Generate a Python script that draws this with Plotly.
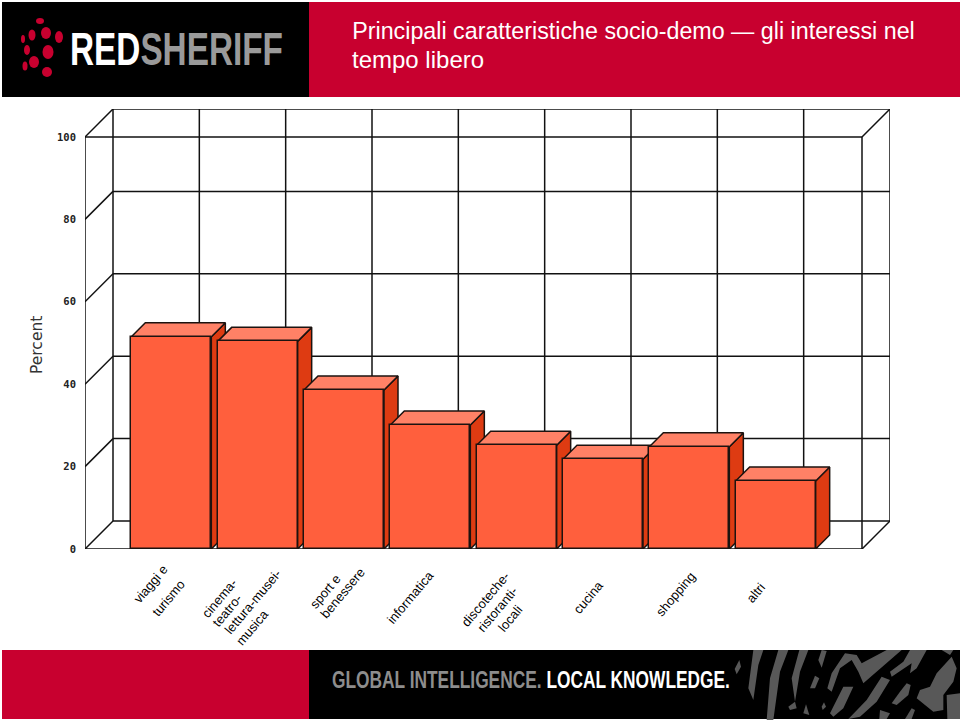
import plotly.graph_objects as go

W, H = 960, 720

# ---- data ----
categories = ["viaggi e turismo", "cinema-teatro-lettura-musei-musica", "sport e benessere",
              "informatica", "discoteche-ristoranti-locali", "cucina", "shopping", "altri"]
values = [51.5, 50.4, 38.6, 30.1, 25.2, 21.8, 24.8, 16.5]
y_ticks = [0, 20, 40, 60, 80, 100]
title_lines = ["Principali caratteristiche socio-demo — gli interessi nel", "tempo libero"]

# ---- geometry ----
X0, X1, Y0, Y1 = 85, 862, 549, 137      # front frame in pixels
DEPTH = 28                              # wall depth in pixels
BAR_DEPTH = 14
PX_X = (X1 - X0) / 9
PX_Y = (Y0 - Y1) / 100
xr = [0, (X1 + DEPTH - X0) / PX_X]
yr = [0, (Y0 - Y1 + DEPTH) / PX_Y]
dom_x = [X0 / W, (X1 + DEPTH) / W]
dom_y = [(H - Y0) / H, (H - Y1 + DEPTH) / H]
dx, dy = DEPTH / PX_X, DEPTH / PX_Y
bdx, bdy = BAR_DEPTH / PX_X, BAR_DEPTH / PX_Y
BAR_W = 80 / PX_X

FRONT, TOP, SIDE, EDGE = "#FF5F3D", "#FF8166", "#DE3B12", "#1c1310"
RED = "#C8002F"
GRID = "#111111"

fig = go.Figure()


def seg(x, y):
    fig.add_trace(go.Scatter(x=x, y=y, mode="lines", line=dict(color=GRID, width=1.5),
                             hoverinfo="skip", showlegend=False))


# back wall and floor/left-wall lines
for t in y_ticks:
    seg([dx, 9 + dx], [t + dy, t + dy])
    seg([0, dx], [t, t + dy])
for k in range(9):
    seg([dx + k, dx + k], [dy, 100 + dy])
seg([9 + dx, 9 + dx], [dy, 100 + dy])
seg([9, 9 + dx], [100, 100 + dy])
seg([9, 9 + dx], [0, dy])
seg([0, 0], [0, 100])
seg([9, 9], [0, 100])
seg([0, 9], [100, 100])
seg([0, 9], [0, 0])

# bar depth faces
for i, v in enumerate(values):
    c = i + 1
    l, r = c - BAR_W / 2, c + BAR_W / 2
    fig.add_trace(go.Scatter(x=[r, r + bdx, r + bdx, r, r], y=[0, bdy, v + bdy, v, 0],
                             mode="lines", fill="toself", fillcolor=SIDE,
                             line=dict(color=EDGE, width=1.5), hoverinfo="skip", showlegend=False))
    fig.add_trace(go.Scatter(x=[l, l + bdx, r + bdx, r, l], y=[v, v + bdy, v + bdy, v, v],
                             mode="lines", fill="toself", fillcolor=TOP,
                             line=dict(color=EDGE, width=1.5), hoverinfo="skip", showlegend=False))

# bar front faces, on an overlay axis pair so that they sit above the depth faces
fig.add_trace(go.Bar(x=[i + 1 for i in range(len(values))], y=values, width=BAR_W,
                     marker=dict(color=FRONT, line=dict(color=EDGE, width=1.5)),
                     xaxis="x2", yaxis="y2", showlegend=False,
                     customdata=categories, hovertemplate="%{customdata}: %{y}%<extra></extra>"))

shapes = []


def rect(x0, y0, x1, y1, color):
    shapes.append(dict(type="rect", xref="paper", yref="paper", x0=x0 / W, x1=x1 / W,
                       y0=1 - y0 / H, y1=1 - y1 / H, fillcolor=color, line=dict(width=0), layer="below"))


def ell(cx, cy, rx, ry, color=RED):
    shapes.append(dict(type="circle", xref="paper", yref="paper", x0=(cx - rx) / W, x1=(cx + rx) / W,
                       y0=1 - (cy + ry) / H, y1=1 - (cy - ry) / H, fillcolor=color, line=dict(width=0)))


def poly(pts, color="#585858"):
    # pts are in 3x crop coordinates of the footer pattern, origin (720, 645)
    p = "M" + " L".join(f"{(720 + x / 3) / W:.5f},{1 - (645 + y / 3) / H:.5f}" for x, y in pts) + " Z"
    shapes.append(dict(type="path", xref="paper", yref="paper", path=p, fillcolor=color, line=dict(width=0)))


rect(2, 2, 309, 97, "#000000")
rect(309, 2, 960, 97, RED)
rect(2, 650, 309, 719, RED)
rect(309, 650, 960, 719, "#000000")

# logo dots
for cx, cy, rx, ry in [(40, 21, 4, 3), (46, 33, 5, 6), (59, 37, 4, 6), (32, 35, 3.5, 5.5), (23, 39, 2, 4),
                       (27, 50, 3, 5), (48, 52, 5.5, 7), (34, 62, 5, 6), (25, 66, 2.5, 4.5), (47, 72, 5, 5)]:
    ell(cx, cy, rx, ry)

# footer fingerprint pattern
blobs = [
    [(100, 15), (130, 15), (115, 60), (100, 165), (85, 130)],
    [(175, 15), (205, 15), (180, 80), (160, 225), (140, 225), (150, 100)],
    [(238, 15), (265, 15), (240, 80), (225, 170), (215, 100)],
    [(305, 15), (320, 18), (305, 68), (295, 45)],
    [(285, 92), (298, 100), (285, 130), (270, 130)],
    [(375, 25), (410, 30), (425, 55), (500, 15), (545, 15), (430, 115), (415, 80), (395, 45), (360, 70),
     (335, 140), (322, 130), (335, 85)],
    [(370, 125), (400, 125), (370, 190), (340, 215), (330, 205), (350, 165)],
    [(485, 95), (510, 105), (470, 170), (420, 215), (385, 222), (440, 165)],
    [(570, 15), (620, 15), (590, 70), (570, 85), (575, 55), (515, 95), (510, 80), (550, 50)],
    [(560, 115), (572, 120), (565, 150), (530, 180), (515, 175), (540, 140)],
    [(695, 35), (710, 70), (700, 110), (670, 150), (670, 195), (640, 200), (590, 160), (600, 135), (630, 125),
     (650, 85)],
    [(680, 150), (720, 145), (720, 222), (682, 222)],
    [(480, 195), (510, 205), (500, 222), (478, 222)],
    [(575, 190), (585, 195), (575, 222), (555, 222)],
    [(205, 185), (225, 170), (230, 190), (210, 195)],
    [(258, 178), (268, 210), (250, 205)],
    [(312, 172), (318, 185), (308, 195), (305, 185)],
    [(58, 45), (63, 65), (50, 88), (44, 72)],
    [(665, 15), (700, 15), (690, 30)],
]
for b in blobs:
    poly(b)

ann = []


def text(x, y, s, size, color, family="Liberation Sans", angle=0, anchor="left"):
    ann.append(dict(xref="paper", yref="paper", x=x / W, y=1 - y / H, text=s, showarrow=False,
                    xanchor=anchor, yanchor="middle", textangle=angle,
                    font=dict(size=size, color=color, family=family)))


text(350, 31, title_lines[0], 24, "#ffffff")
text(350, 59, title_lines[1], 24, "#ffffff")
text(68, 49, "<b>RED<span style='color:#9a9a9a'>SHERIFF</span></b>", 46, "#ffffff")
text(330, 680, "<b>GLOBAL INTELLIGENCE. <span style='color:#ffffff'>LOCAL KNOWLEDGE.</span></b>", 23, "#8d8d8d")
text(37, 345, "Percent", 15.5, "#333333", "DejaVu Sans", angle=-90, anchor="center")

# category label lines, centred as in the reference
label_lines = [
    (150, 584, "viaggi e"), (168, 598, "turismo"),
    (219, 598, "cinema-"), (227, 610, "teatro-"), (252, 602, "lettura-musei-"), (252, 627, "musica"),
    (325, 591, "sport e"), (342, 593, "benessere"),
    (410, 597, "informatica"),
    (485, 599, "discoteche-"), (497, 609, "ristoranti-"), (510, 618, "locali"),
    (588, 597, "cucina"),
    (675, 594, "shopping"),
    (755, 593, "altri"),
]
for x, y, s in label_lines:
    text(x, y, s, 13, "#000000", angle=-50, anchor="center")

axis_hidden = dict(showgrid=False, zeroline=False, showline=False, showticklabels=False, ticks="")
fig.update_layout(
    width=W, height=H, autosize=False,
    margin=dict(l=0, r=0, t=0, b=0, pad=0, autoexpand=False),
    paper_bgcolor="#ffffff", plot_bgcolor="rgba(0,0,0,0)",
    showlegend=False,
    shapes=shapes, annotations=ann,
    bargap=0,
    xaxis=dict(domain=dom_x, range=xr, **axis_hidden),
    yaxis=dict(domain=dom_y, range=yr, showgrid=False, zeroline=False, showline=False,
               tickmode="array", tickvals=y_ticks, ticktext=[str(t) for t in y_ticks],
               ticks="", ticklabelstandoff=8,
               tickfont=dict(family="DejaVu Sans Mono", size=10.5, color="#222222", weight="bold")),
    xaxis2=dict(domain=dom_x, range=xr, overlaying="x", anchor="y2", **axis_hidden),
    yaxis2=dict(domain=dom_y, range=yr, overlaying="y", anchor="x2", **axis_hidden),
)

# remove the page margin; squeeze the condensed lettering horizontally to its reference width
post = """
document.documentElement.style.margin = '0';
document.body.style.margin = '0';
document.body.style.overflow = 'hidden';
var targets = [['RED', 213], ['GLOBAL', 398], ['Principali', 563]];
document.querySelectorAll('.annotation-text').forEach(function (t) {
  targets.forEach(function (p) {
    if (t.textContent.indexOf(p[0]) === 0) {
      var b = t.getBBox();
      var s = p[1] / b.width;
      t.setAttribute('transform', 'translate(' + b.x + ',0) scale(' + s + ',1) translate(' + (-b.x) + ',0)');
    }
  });
});
"""
fig.write_html("out.html", config=dict(displayModeBar=False), post_script=post,
               default_width="960px", default_height="720px")
